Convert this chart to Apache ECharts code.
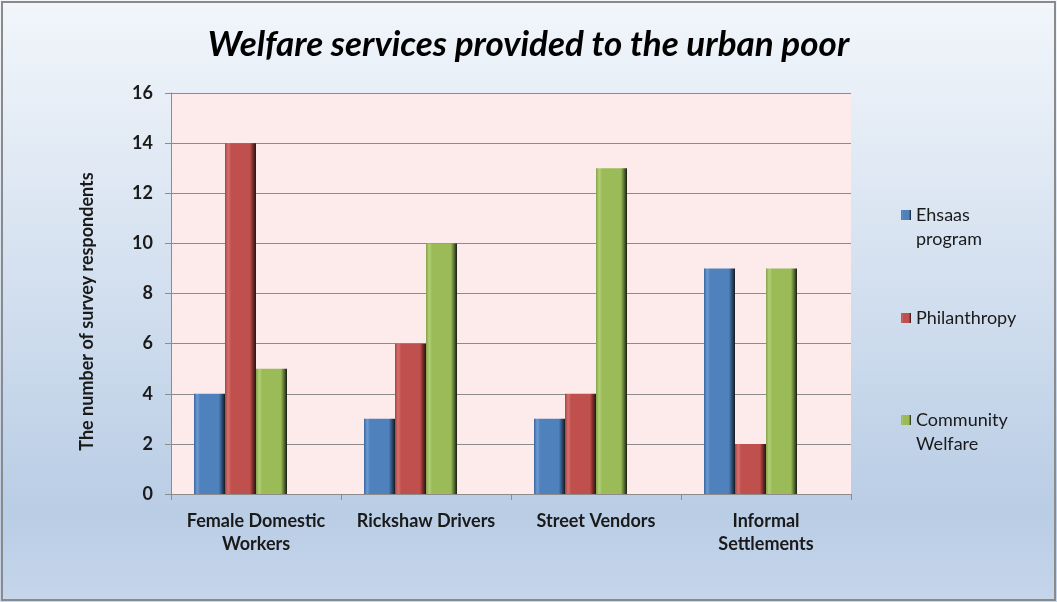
<!DOCTYPE html>
<html>
<head>
<meta charset="utf-8">
<script src="https://cdn.jsdelivr.net/npm/echarts@6/dist/echarts.min.js"></script>
<style>
html,body{margin:0;padding:0;background:#fff;}
#chart{width:1057px;height:602px;}
</style>
</head>
<body>
<div id="chart"></div>
<script>
const categories = ['Female Domestic\nWorkers', 'Rickshaw Drivers', 'Street Vendors', 'Informal\nSettlements'];
const ehsaas = [4, 3, 3, 9];
const philanthropy = [14, 6, 4, 2];
const community = [5, 10, 13, 9];
const yTicks = [0, 2, 4, 6, 8, 10, 12, 14, 16];
const seriesNames = ['Ehsaas program', 'Philanthropy', 'Community Welfare'];
const legendLabels = ['Ehsaas\nprogram', 'Philanthropy', 'Community\nWelfare'];

function bevel(dark, mid, light, edge) {
  return {
    type: 'linear', x: 0, y: 0, x2: 1, y2: 0,
    colorStops: [
      {offset: 0, color: edge},
      {offset: 0.1, color: light},
      {offset: 0.2, color: mid},
      {offset: 0.8, color: mid},
      {offset: 0.9, color: dark},
      {offset: 1, color: '#1a1a1a'}
    ]
  };
}
const colors = [
  bevel('#2c4d78', '#4f81bd', '#6d9ad2', '#3a66a0'),
  bevel('#7a2a28', '#c0504d', '#d7706d', '#a54341'),
  bevel('#5a7530', '#9bbb59', '#b3d075', '#84a24a')
];

const chart = echarts.init(document.getElementById('chart'));
const font = 'Lato, "Open Sans", sans-serif';
// square icon placed at the top of a taller box so it lines up with the first text line
const topIcon = 'path://M0,0H10V10H0Z M0,33.99H0.01V34H0Z';

function mkLegend(i, top, twoLine) {
  return {
    orient: 'vertical', left: 901, top: top, padding: 0,
    data: [seriesNames[i]], itemWidth: 10, itemHeight: twoLine ? 34 : 10,
    icon: twoLine ? topIcon : 'rect',
    formatter: () => legendLabels[i],
    textStyle: {fontFamily: font, fontSize: 18, color: '#1a1a1a', lineHeight: 24},
    selectedMode: false
  };
}

const option = {
  backgroundColor: {
    type: 'linear', x: 0, y: 0, x2: 0, y2: 1,
    colorStops: [
      {offset: 0, color: '#f2f6fb'},
      {offset: 0.4, color: '#d8e3f1'},
      {offset: 0.85, color: '#b9cde5'},
      {offset: 1, color: '#c6d6eb'}
    ]
  },
  animation: false,
  title: {
    text: 'Welfare services provided to the urban poor',
    left: 'center', top: 22,
    textStyle: {fontFamily: font, fontSize: 35, fontWeight: 'bold', fontStyle: 'italic', color: '#000'}
  },
  legend: [mkLegend(0, 203, true), mkLegend(1, 306, false), mkLegend(2, 408, true)],
  grid: {left: 171, right: 206, top: 93, bottom: 108, show: true, backgroundColor: '#fdeaea', borderWidth: 0},
  xAxis: {
    type: 'category', data: categories,
    axisLine: {lineStyle: {color: '#8c8c8c', width: 1}},
    axisTick: {show: true, length: 6, lineStyle: {color: '#8c8c8c'}},
    axisLabel: {interval: 0, fontFamily: font, fontSize: 18, fontWeight: 'bold', color: '#1a1a1a', margin: 16, lineHeight: 23}
  },
  yAxis: {
    type: 'value', min: 0, max: 16, interval: 2,
    name: 'The number of survey respondents',
    nameLocation: 'middle', nameGap: 75, nameRotate: 90,
    nameTextStyle: {fontFamily: font, fontSize: 18, fontWeight: 'bold', color: '#1a1a1a', padding: [0, 36, 0, 0]},
    axisLine: {show: true, lineStyle: {color: '#8c8c8c', width: 1}},
    axisTick: {show: true, length: 6, lineStyle: {color: '#8c8c8c'}},
    axisLabel: {fontFamily: font, fontSize: 18, fontWeight: 'bold', color: '#1a1a1a', margin: 18,
      formatter: v => yTicks.includes(v) ? String(v) : ''},
    splitLine: {lineStyle: {color: '#8c8c8c', width: 1}}
  },
  series: [
    {name: seriesNames[0], type: 'bar', data: ehsaas, barWidth: 31, barGap: '0%', itemStyle: {color: colors[0]}},
    {name: seriesNames[1], type: 'bar', data: philanthropy, barWidth: 31, barGap: '0%', itemStyle: {color: colors[1]}},
    {name: seriesNames[2], type: 'bar', data: community, barWidth: 31, barGap: '0%', itemStyle: {color: colors[2]}},
    {name: 'spacer', type: 'bar', data: ['-', '-', '-', '-'], barWidth: 31, barGap: '0%', silent: true}
  ],
  graphic: [{
    type: 'rect', shape: {x: 2, y: 2, width: 1053, height: 598},
    style: {fill: null, stroke: '#8a8a8a', lineWidth: 2}, silent: true, z: 100
  }]
};
chart.setOption(option);
</script>
</body>
</html>
